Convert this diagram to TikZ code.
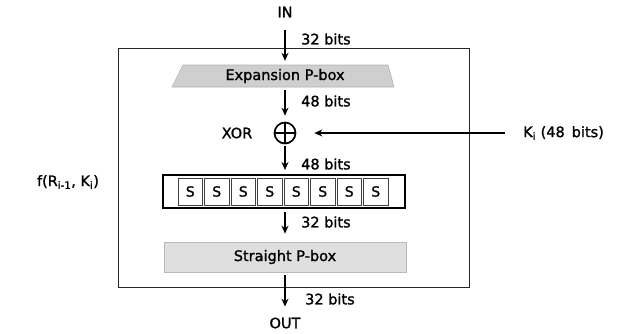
\documentclass[tikz,border=0pt]{standalone}
\usepackage{fontspec}
\setmainfont{DejaVu Sans}[FakeBold=1.3]
\usetikzlibrary{arrows.meta}
\begin{document}
\begin{tikzpicture}[x=1pt,y=-1pt,
  every node/.style={font=\fontsize{14.5}{16}\selectfont, inner sep=0pt},
  arr/.style={-{Stealth[length=8pt,width=7pt]}, line width=1.4pt},
  lbl/.style={anchor=west},
  sbox/.style={draw=black!75, line width=0.9pt, minimum width=24.5pt, minimum height=27pt, font=\fontsize{14}{15}\selectfont}]
\useasboundingbox (0,0) rectangle (625,333);
% outer frame
\draw[line width=1pt, black!85] (118,48) rectangle (469,287);
% texts
\node (in) at (285,12) {IN};
\node (out) at (285,323) {OUT};
\node (f) at (68,182) {f(R\textsubscript{i-1}, K\textsubscript{i})};
\node (ki) [anchor=west] at (523,133) {K\textsubscript{i} (48\, bits)};
\node (xorl) at (237,133) {XOR};
% expansion P-box
\fill[gray!38] (183,65) -- (388,65) -- (394,87) -- (172,87) -- cycle;
\draw[gray!60, line width=0.6pt] (183,65) -- (388,65) -- (394,87) -- (172,87) -- cycle;
\node (exp) [minimum width=216pt, minimum height=22pt] at (285,76) {Expansion P-box};
% XOR
\node (xor) [circle, draw, line width=1.7pt, minimum size=21pt,
  path picture={\draw[line width=1.6pt] (path picture bounding box.north) -- (path picture bounding box.south) (path picture bounding box.west) -- (path picture bounding box.east);}] at (285,133) {};
% S-boxes
\node (sb) [draw, line width=1.4pt, minimum width=242pt, minimum height=33pt] at (284,191.5) {};
\foreach \i in {0,...,7} {
  \node[sbox] (s\i) at ({190.25+26.5*\i},191.5) {S};
}
% straight P-box
\node (sp) [fill=gray!25, draw=gray!55, line width=0.6pt, minimum width=242pt, minimum height=30pt] at (285,257) {Straight P-box};
% arrows
\draw[arr, shorten <=12.7pt, shorten >=4pt] (in) -- (exp);
\draw[arr, shorten <=3pt, shorten >=6pt] (exp) -- (xor);
\draw[arr, shorten <=2pt, shorten >=5pt] (xor) -- (285,175);
\draw[arr, shorten <=4pt, shorten >=8pt] (285,208) -- (sp);
\draw[arr, shorten <=3pt, shorten >=10.7pt] (sp) -- (out);
\draw[arr, line width=1.2pt, shorten <=18pt, shorten >=18pt] (ki) -- (xor);
% labels
\node[lbl] (l1) at (301,39) {32 bits};
\node[lbl] (l2) at (301,101) {48 bits};
\node[lbl] (l3) at (301,164) {48 bits};
\node[lbl] (l4) at (301,222) {32 bits};
\node[lbl] (l5) at (305,299) {32 bits};
\end{tikzpicture}
\end{document}
